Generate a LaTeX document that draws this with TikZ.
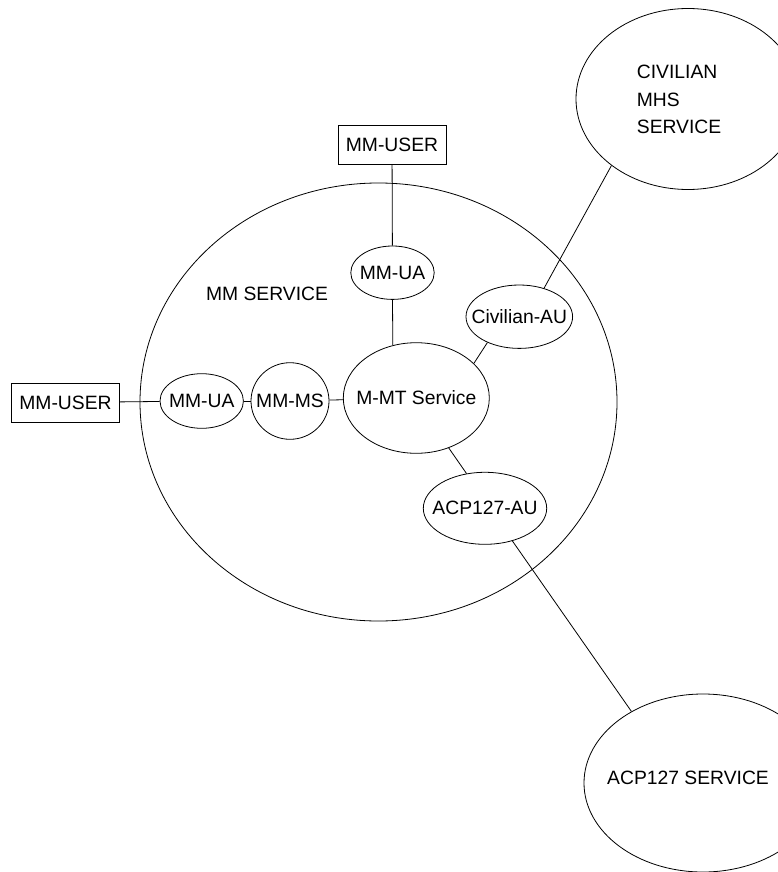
\documentclass[tikz,border=0pt]{standalone}
\usepackage{fontspec}
\setmainfont{Liberation Sans}
\usetikzlibrary{shapes.geometric}
\begin{document}
\begin{tikzpicture}[x=1pt,y=-1pt,
  every node/.style={font=\fontsize{19.3}{27.6}\selectfont, inner sep=0pt},
  conn/.style={line width=0.8pt},
  oval/.style={draw, line width=0.8pt, ellipse, inner xsep=-20pt, inner ysep=0pt},
  userbox/.style={draw, line width=0.8pt, rectangle, minimum width=108pt, minimum height=39pt},
  plaintext/.style={}]
\useasboundingbox (0,0) rectangle (777,872);

% service domains
\node[oval, minimum width=477pt, minimum height=438pt] (mmsvc) at (378.5,402) {};
\node[plaintext] (mmsvclabel) at (267,294.3) {MM SERVICE};
\node[oval, minimum width=224pt, minimum height=181pt] (civsvc) at (688,99) {};
\node[plaintext, align=left, anchor=base west] (civlabel) at (636.7,134) {CIVILIAN\\MHS\\SERVICE};
\node[oval, minimum width=238pt, minimum height=178pt] (acpsvc) at (703,783) {};
\node[plaintext] (acplabel) at (688,778.3) {ACP127 SERVICE};

% components inside the MM service
\node[oval, minimum width=83.4pt, minimum height=54.6pt] (ualeft) at (201.7,401) {MM-UA};
\node[oval, minimum width=78pt, minimum height=76.6pt] (ms) at (290,401) {MM-MS};
\node[oval, minimum width=146pt, minimum height=110.6pt] (mmt) at (416.3,398) {M-MT Service};
\node[oval, minimum width=83.4pt, minimum height=53.4pt] (uatop) at (392.5,272.7) {MM-UA};
\node[oval, minimum width=106.6pt, minimum height=63.4pt] (civau) at (519.3,316.7) {Civilian-AU};
\node[oval, minimum width=123.4pt, minimum height=72pt] (acpau) at (485,508.3) {ACP127-AU};

% users
\node[userbox] (userleft) at (65.5,402.5) {MM-USER};
\node[userbox] (usertop) at (392,145) {MM-USER};

% connections
\draw[conn] (userleft) -- (ualeft);
\draw[conn] (ualeft) -- (ms);
\draw[conn] (ms) -- (mmt);
\draw[conn] (usertop) -- (uatop);
\draw[conn] (uatop.south) -- (mmt.114);
\draw[conn] (mmt.31) -- (civau.219);
\draw[conn] (civau.49) -- (civsvc.221);
\draw[conn] (mmt.-57.5) -- (acpau.118.5);
\draw[conn] (acpau.-50) -- (acpsvc.135);
\end{tikzpicture}
\end{document}
